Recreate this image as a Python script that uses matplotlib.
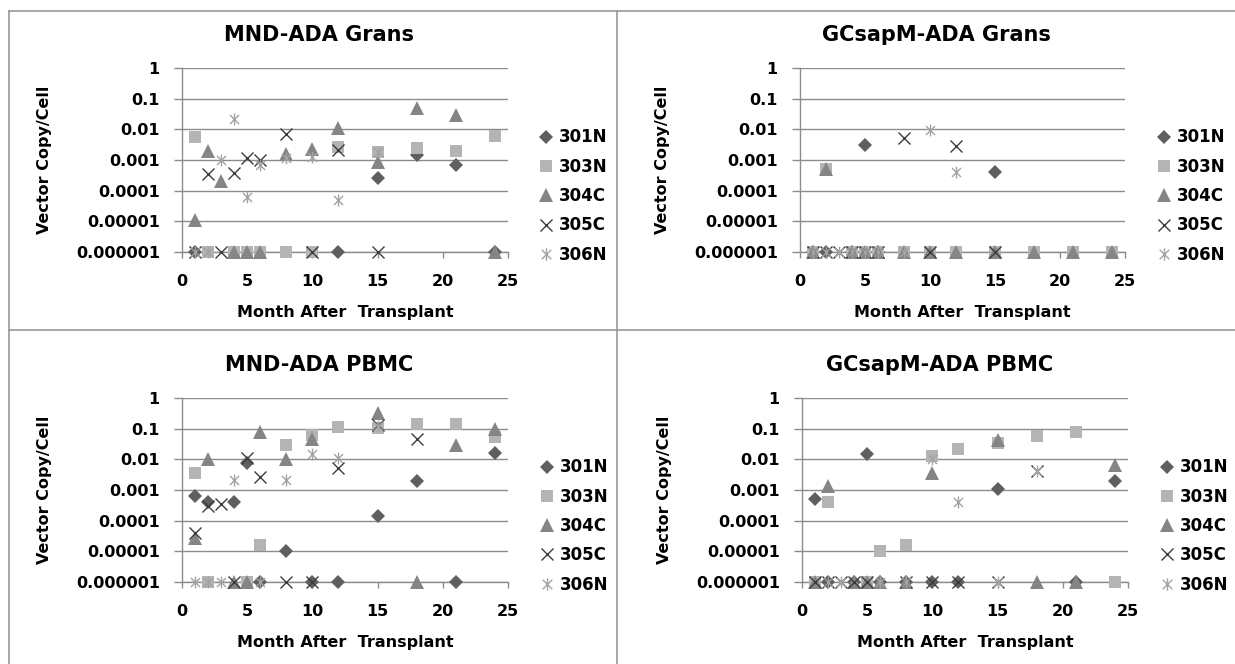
import numpy as np
import matplotlib
matplotlib.use('Agg')
import matplotlib.pyplot as plt
from matplotlib.path import Path
from matplotlib.lines import Line2D

W, H = 1235, 664

# months sampled (shared by all panels), None = no sample
months = [1, 2, 3, 4, 5, 6, 8, 10, 12, 15, 18, 21, 24]
patients = ['301N', '303N', '304C', '305C', '306N']

# MND-ADA Grans
mnd_grans_301n = [1e-6, None, None, None, None, None, None, None, 1e-6, 0.00026, 0.0015, 0.0007, 1e-6]
mnd_grans_303n = [0.0056, 1e-6, None, 1e-6, 1e-6, 1e-6, 1e-6, 1e-6, 0.0026, 0.0018, 0.0025, 0.002, 0.006]
mnd_grans_304c = [1.1e-5, 0.0019, 0.0002, 1e-6, 1e-6, 1e-6, 0.0016, 0.0022, 0.011, 0.00085, 0.05, 0.029, 1e-6]
mnd_grans_305c = [1e-6, 0.00036, 1e-6, 0.00037, 0.0012, 0.001, 0.007, 1e-6, 0.0021, 1e-6, None, None, None]
mnd_grans_306n = [1e-6, 1e-6, 0.001, 0.022, 6e-5, 0.0007, 0.0012, 0.0013, 5e-5, 0.0018, None, None, None]

# GCsapM-ADA Grans
gc_grans_301n = [1e-6, 1e-6, None, 1e-6, 0.003, 1e-6, None, None, None, 0.0004, None, None, None]
gc_grans_303n = [1e-6, 0.0005, None, 1e-6, 1e-6, 1e-6, 1e-6, 1e-6, 1e-6, 1e-6, 1e-6, 1e-6, 1e-6]
gc_grans_304c = [1e-6, 0.0005, None, 1e-6, 1e-6, 1e-6, 1e-6, 1e-6, 1e-6, 1e-6, 1e-6, 1e-6, 1e-6]
gc_grans_305c = [1e-6, 1e-6, 1e-6, 1e-6, 1e-6, 1e-6, 0.0053, 1e-6, 0.0029, 1e-6, None, None, None]
gc_grans_306n = [1e-6, 1e-6, 1e-6, 1e-6, 1e-6, 1e-6, 1e-6, 0.0093, 0.0004, None, None, None, None]

# MND-ADA PBMC
mnd_pbmc_301n = [0.00062, 0.00041, None, 0.00041, 0.0076, 1e-6, 1e-5, 1e-6, 1e-6, 0.00014, 0.002, 1e-6, 0.016]
mnd_pbmc_303n = [0.0036, 1e-6, None, None, 1e-6, 1.6e-5, 0.029, 0.06, 0.11, 0.105, 0.14, 0.14, 0.054]
mnd_pbmc_304c = [2.8e-5, 0.01, None, 1e-6, 1e-6, 0.078, 0.01, 0.047, None, 0.32, 1e-6, 0.029, 0.1]
mnd_pbmc_305c = [4e-5, 0.0003, 0.00036, 1e-6, 0.011, 0.0026, 1e-6, 1e-6, 0.0052, 0.13, 0.045, None, None]
mnd_pbmc_306n = [1e-6, 1e-6, 1e-6, 0.0021, None, 1e-6, 0.0021, 0.015, 0.011, 0.12, None, None, None]

# GCsapM-ADA PBMC
gc_pbmc_301n = [0.0005, 1e-6, None, 1e-6, 0.0145, 1e-6, 1e-6, 1e-6, 1e-6, 0.00105, None, 1e-6, 0.002]
gc_pbmc_303n = [1e-6, 0.0004, None, None, 1e-6, 1e-5, 1.6e-5, 0.0125, 0.021, 0.034, 0.056, 0.078, 1e-6]
gc_pbmc_304c = [1e-6, 0.0014, None, 1e-6, 1e-6, 1e-6, 1e-6, 0.0037, None, 0.042, 1e-6, 1e-6, 0.0065]
gc_pbmc_305c = [1e-6, 1e-6, 1e-6, 1e-6, 1e-6, None, 1e-6, 1e-6, 1e-6, 1e-6, 0.0042, None, None]
gc_pbmc_306n = [None, 1e-6, 1e-6, None, None, 1e-6, 1e-6, 0.01, 0.0004, 1e-6, 0.0042, None, None]

y_ticks = [1e-6, 1e-5, 1e-4, 1e-3, 1e-2, 1e-1, 1]
y_ticklabels = ['0.000001', '0.00001', '0.0001', '0.001', '0.01', '0.1', '1']
x_ticks = [0, 5, 10, 15, 20, 25]

# excel style star marker: x plus vertical bar
star = Path([(-1, -1), (1, 1), (-1, 1), (1, -1), (0, -1.3), (0, 1.3)],
            [Path.MOVETO, Path.LINETO, Path.MOVETO, Path.LINETO, Path.MOVETO, Path.LINETO])

styles = {
    '301N': dict(marker='D', color='#5f5f5f', ms=7, mew=0),
    '303N': dict(marker='s', color='#b4b4b4', ms=8.5, mew=0),
    '304C': dict(marker='^', color='#858585', ms=9.5, mew=0),
    '305C': dict(marker='x', color='#3c3c3c', ms=8.5, mew=1.0),
    '306N': dict(marker=star, color='#a3a3a3', ms=8.5, mew=1.0),
}

panels = [
    dict(title='MND-ADA Grans', data=[mnd_grans_301n, mnd_grans_303n, mnd_grans_304c, mnd_grans_305c, mnd_grans_306n],
         ax=(182, 508, 68, 252), title_x=319, ylab_x=45, leg_x=540),
    dict(title='GCsapM-ADA Grans', data=[gc_grans_301n, gc_grans_303n, gc_grans_304c, gc_grans_305c, gc_grans_306n],
         ax=(800, 1125, 68, 252), title_x=936, ylab_x=662, leg_x=1158),
    dict(title='MND-ADA PBMC', data=[mnd_pbmc_301n, mnd_pbmc_303n, mnd_pbmc_304c, mnd_pbmc_305c, mnd_pbmc_306n],
         ax=(182, 508, 398, 582), title_x=319, ylab_x=45, leg_x=541),
    dict(title='GCsapM-ADA PBMC', data=[gc_pbmc_301n, gc_pbmc_303n, gc_pbmc_304c, gc_pbmc_305c, gc_pbmc_306n],
         ax=(802, 1128, 398, 582), title_x=940, ylab_x=664, leg_x=1161),
]

plt.rcParams['font.family'] = 'DejaVu Sans'
plt.rcParams['font.weight'] = 'bold'
grid_c = '#8c8c8c'

fig = plt.figure(figsize=(W / 100, H / 100), dpi=100)


def fx(px):
    return px / W


def fy(py):
    return 1 - py / H


# panel frames: outer border plus single dividers
frame_kw = dict(color='#999999', lw=1.2, transform=fig.transFigure)
for xs, ys in [([9, 1236], [11, 11]), ([9, 9], [11, 665]),
               ([617, 617], [11, 665]), ([9, 1236], [330, 330])]:
    fig.add_artist(Line2D([fx(v) for v in xs], [fy(v) for v in ys], **frame_kw))

for p in panels:
    l, r, t, b = p['ax']
    ax = fig.add_axes([fx(l), fy(b), fx(r) - fx(l), fy(t) - fy(b)])
    ax.set_yscale('log')
    ax.set_ylim(1e-6, 1)
    ax.set_xlim(0, 25)
    ax.patch.set_alpha(0)

    for name, vals in zip(patients, p['data']):
        xs = [m for m, v in zip(months, vals) if v is not None]
        ys = [v for v in vals if v is not None]
        st = styles[name]
        ax.plot(xs, ys, ls='none', marker=st['marker'], ms=st['ms'], color=st['color'],
                mec=st['color'], mew=st['mew'], clip_on=False, zorder=3, label=name)

    ax.set_yticks(y_ticks)
    ax.set_yticklabels(y_ticklabels)
    ax.yaxis.set_minor_locator(matplotlib.ticker.NullLocator())
    ax.set_xticks(x_ticks)
    ax.tick_params(axis='y', length=6, width=1, color=grid_c, pad=10, labelsize=11.5)
    ax.tick_params(axis='x', length=4, width=1, color=grid_c, pad=12, labelsize=11.5)
    ax.grid(axis='y', color=grid_c, lw=1)
    ax.set_axisbelow(True)
    for s in ['top', 'right']:
        ax.spines[s].set_visible(False)
    for s in ['left', 'bottom']:
        ax.spines[s].set_color(grid_c)
        ax.spines[s].set_linewidth(1)

    fig.text(fx(p['title_x']), fy(t - 33), p['title'], ha='center', va='center',
             fontsize=15, fontweight='bold')
    fig.text(fx((l + r) / 2), fy(b + 60), 'Month After  Transplant', ha='center', va='center',
             fontsize=11.5, fontweight='bold')
    fig.text(fx(p['ylab_x']), fy((t + b) / 2), 'Vector Copy/Cell', ha='center', va='center',
             rotation=90, fontsize=11.5, fontweight='bold')

    ax.legend(loc='center left', bbox_to_anchor=(fx(p['leg_x']), fy(t + 128)),
              bbox_transform=fig.transFigure, frameon=False, borderpad=0, borderaxespad=0,
              handlelength=0.75, handletextpad=0.4, labelspacing=0.68, markerscale=1.05,
              prop=dict(size=12, weight='bold'))

fig.savefig('out.png', dpi=100)
